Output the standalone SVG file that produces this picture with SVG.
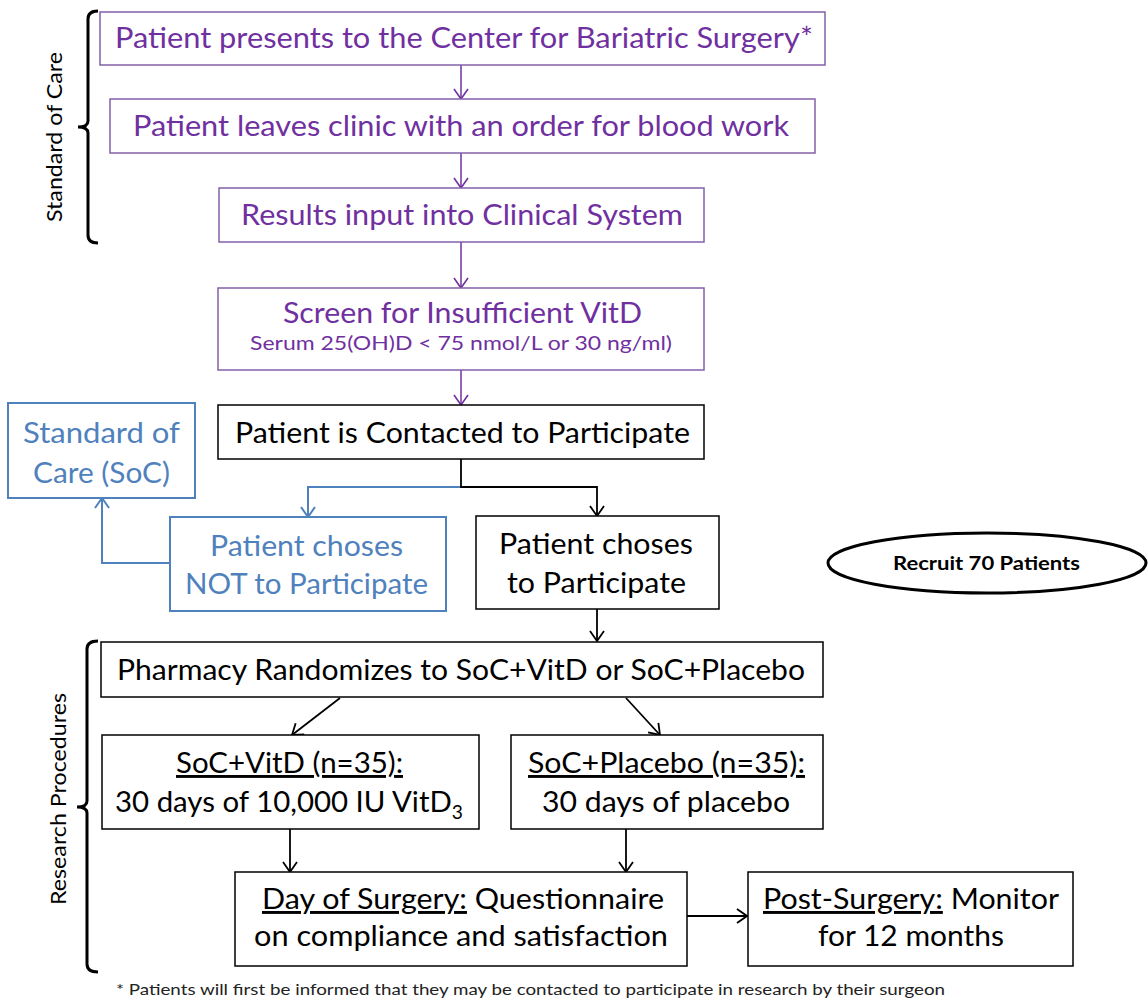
<svg xmlns="http://www.w3.org/2000/svg" width="1148" height="1002" viewBox="0 0 1148 1002">
<defs>
<style>
text{font-family:Lato,"Open Sans","Liberation Sans",sans-serif;}
.pt{fill:#7030A0;font-size:28px;text-anchor:middle;}
.bt{fill:#4F81BD;font-size:28px;text-anchor:middle;}
.kt{fill:#000;font-size:29px;text-anchor:middle;}
.pbox{fill:#fff;stroke:#8460AA;stroke-width:1.5;}
.bbox{fill:#fff;stroke:#4F81BD;stroke-width:2;}
.kbox{fill:#fff;stroke:#000;stroke-width:1.5;}
.pl{stroke:#7030A0;stroke-width:1.5;fill:none;}
.bl{stroke:#4F81BD;stroke-width:2;fill:none;}
.kl{stroke:#000;stroke-width:1.8;fill:none;}
.brace{stroke:#000;stroke-width:3;fill:none;}
.u{text-decoration:underline;}
</style>
<marker id="ap" markerUnits="userSpaceOnUse" viewBox="0 0 12 16" refX="11" refY="8" markerWidth="12" markerHeight="16" orient="auto"><path d="M1,1 L11,8 L1,15" fill="none" stroke="#7030A0" stroke-width="1.6"/></marker>
<marker id="ab" markerUnits="userSpaceOnUse" viewBox="0 0 12 16" refX="11" refY="8" markerWidth="12" markerHeight="16" orient="auto"><path d="M1,1 L11,8 L1,15" fill="none" stroke="#4F81BD" stroke-width="2"/></marker>
<marker id="ak" markerUnits="userSpaceOnUse" viewBox="0 0 12 16" refX="11" refY="8" markerWidth="12" markerHeight="16" orient="auto"><path d="M1,1 L11,8 L1,15" fill="none" stroke="#000" stroke-width="1.8"/></marker>
</defs>
<rect width="1148" height="1002" fill="#fff"/>

<g id="brace-soc">
<path class="brace" d="M98,11 Q88,11 88,19 L88,121 Q88,127 78,127 Q88,127 88,133 L88,235 Q88,243 98,243"/>
<text transform="translate(62,137) rotate(-90)" font-size="21" text-anchor="middle" textLength="170" lengthAdjust="spacingAndGlyphs">Standard of Care</text>
</g>
<g id="brace-research">
<path class="brace" d="M98,641 Q87,641 87,649 L87,801 Q87,807 77,807 Q87,807 87,813 L87,964 Q87,972 98,972"/>
<text transform="translate(66,799) rotate(-90)" font-size="22" text-anchor="middle" textLength="212" lengthAdjust="spacingAndGlyphs">Research Procedures</text>
</g>

<g id="connectors">
<line class="pl" x1="461" y1="65" x2="461" y2="99" marker-end="url(#ap)"/>
<line class="pl" x1="461" y1="153" x2="461" y2="188" marker-end="url(#ap)"/>
<line class="pl" x1="461" y1="242" x2="461" y2="288" marker-end="url(#ap)"/>
<line class="pl" x1="461" y1="370" x2="461" y2="405" marker-end="url(#ap)"/>
<polyline class="bl" points="461,487 308,487 308,517" marker-end="url(#ab)"/>
<polyline class="kl" points="461,459 461,487 597,487 597,516" marker-end="url(#ak)"/>
<polyline class="bl" points="170,563 102,563 102,498" marker-end="url(#ab)"/>
<line class="kl" x1="597" y1="609" x2="597" y2="641" marker-end="url(#ak)"/>
<line class="kl" x1="340" y1="698" x2="292" y2="735" marker-end="url(#ak)"/>
<line class="kl" x1="626" y1="698" x2="660" y2="735" marker-end="url(#ak)"/>
<line class="kl" x1="290" y1="829" x2="290" y2="872" marker-end="url(#ak)"/>
<line class="kl" x1="626" y1="829" x2="626" y2="872" marker-end="url(#ak)"/>
<line class="kl" x1="687" y1="916" x2="747" y2="916" marker-end="url(#ak)"/>
</g>

<g id="n1"><rect class="pbox" x="100" y="12" width="725" height="53"/>
<text class="pt" x="464" y="48" textLength="698" lengthAdjust="spacingAndGlyphs">Patient presents to the Center for Bariatric Surgery*</text></g>
<g id="n2"><rect class="pbox" x="110" y="99" width="705" height="54"/>
<text class="pt" x="461" y="136" textLength="656" lengthAdjust="spacingAndGlyphs">Patient leaves clinic with an order for blood work</text></g>
<g id="n3"><rect class="pbox" x="219" y="188" width="485" height="54"/>
<text class="pt" x="462" y="225" textLength="442" lengthAdjust="spacingAndGlyphs">Results input into Clinical System</text></g>
<g id="n4"><rect class="pbox" x="218" y="288" width="486" height="82"/>
<text class="pt" x="462.5" y="323" textLength="359" lengthAdjust="spacingAndGlyphs">Screen for Insufficient VitD</text>
<text class="pt" x="461" y="350" style="font-size:20px" textLength="422" lengthAdjust="spacingAndGlyphs">Serum 25(OH)D &lt; 75 nmol/L or 30 ng/ml)</text></g>
<g id="n5"><rect class="kbox" x="218" y="405" width="486" height="54"/>
<text class="kt" x="462.5" y="443" textLength="455" lengthAdjust="spacingAndGlyphs">Patient is Contacted to Participate</text></g>
<g id="n-soc"><rect class="bbox" x="8" y="403" width="187" height="95"/>
<text class="bt" x="101.5" y="443" textLength="157" lengthAdjust="spacingAndGlyphs">Standard of</text>
<text class="bt" x="101.5" y="483" textLength="137" lengthAdjust="spacingAndGlyphs">Care (SoC)</text></g>
<g id="n-not"><rect class="bbox" x="170" y="517" width="276" height="94"/>
<text class="bt" x="306.5" y="556" textLength="193" lengthAdjust="spacingAndGlyphs">Patient choses</text>
<text class="bt" x="306.5" y="594" textLength="243" lengthAdjust="spacingAndGlyphs">NOT to Participate</text></g>
<g id="n-yes"><rect class="kbox" x="476" y="516" width="243" height="93"/>
<text class="kt" x="596" y="554" textLength="194" lengthAdjust="spacingAndGlyphs">Patient choses</text>
<text class="kt" x="596.5" y="593" textLength="179" lengthAdjust="spacingAndGlyphs">to Participate</text></g>
<g id="n-recruit"><ellipse cx="987" cy="563" rx="159" ry="30" fill="#fff" stroke="#000" stroke-width="3"/>
<text x="986.5" y="570" font-size="19" font-weight="bold" text-anchor="middle" textLength="187" lengthAdjust="spacingAndGlyphs">Recruit 70 Patients</text></g>
<g id="n-pharm"><rect class="kbox" x="101" y="642" width="722" height="55"/>
<text class="kt" x="461" y="680" textLength="688" lengthAdjust="spacingAndGlyphs">Pharmacy Randomizes to SoC+VitD or SoC+Placebo</text></g>
<g id="n-vitd"><rect class="kbox" x="102" y="735" width="377" height="94"/>
<text class="kt" x="289.5" y="773" textLength="227" lengthAdjust="spacingAndGlyphs"><tspan class="u">SoC+VitD (n=35):</tspan></text>
<text class="kt" x="289" y="812" textLength="348" lengthAdjust="spacingAndGlyphs">30 days of 10,000 IU VitD<tspan dy="7" style="font-size:19px">3</tspan></text></g>
<g id="n-placebo"><rect class="kbox" x="511" y="735" width="312" height="94"/>
<text class="kt" x="666.5" y="773" textLength="277" lengthAdjust="spacingAndGlyphs"><tspan class="u">SoC+Placebo (n=35):</tspan></text>
<text class="kt" x="666" y="812" textLength="248" lengthAdjust="spacingAndGlyphs">30 days of placebo</text></g>
<g id="n-day"><rect class="kbox" x="235" y="872" width="452" height="94"/>
<text class="kt" x="463" y="909" textLength="402" lengthAdjust="spacingAndGlyphs"><tspan class="u">Day of Surgery:</tspan> Questionnaire</text>
<text class="kt" x="461" y="946" textLength="414" lengthAdjust="spacingAndGlyphs">on compliance and satisfaction</text></g>
<g id="n-post"><rect class="kbox" x="748" y="872" width="325" height="94"/>
<text class="kt" x="911" y="909" textLength="296" lengthAdjust="spacingAndGlyphs"><tspan class="u">Post-Surgery:</tspan> Monitor</text>
<text class="kt" x="911" y="946" textLength="186" lengthAdjust="spacingAndGlyphs">for 12 months</text></g>

<text x="116" y="995" font-size="16" fill="#222" textLength="829" lengthAdjust="spacingAndGlyphs">* Patients will first be informed that they may be contacted to participate in research by their surgeon</text>
</svg>
